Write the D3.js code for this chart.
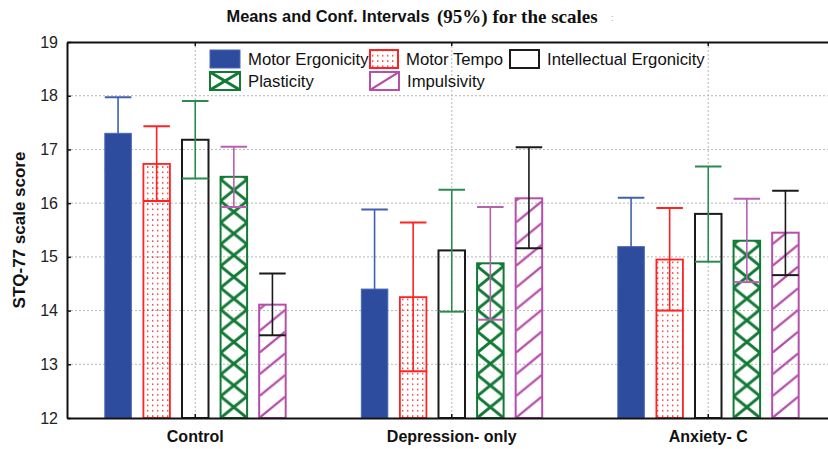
<!DOCTYPE html>
<html>
<head>
<meta charset="utf-8">
<script src="https://cdn.jsdelivr.net/npm/d3@7"></script>
<style>
  html, body { margin: 0; padding: 0; background: #fff; }
  svg { display: block; }
</style>
</head>
<body>
<svg id="chart" width="828" height="449"></svg>
<script>
// ---------------- data ----------------
const categories = ["Control", "Depression- only", "Anxiety- C"];
const series = ["Motor Ergonicity", "Motor Tempo", "Intellectual Ergonicity", "Plasticity", "Impulsivity"];

const meanMotorErgonicity       = [17.30, 14.40, 15.19];
const meanMotorTempo            = [16.73, 14.25, 14.95];
const meanIntellectualErgonicity= [17.18, 15.12, 15.80];
const meanPlasticity            = [16.49, 14.88, 15.30];
const meanImpulsivity           = [14.11, 16.09, 15.45];

const upperMotorErgonicity       = [17.97, 15.88, 16.10];
const upperMotorTempo            = [17.43, 15.64, 15.91];
const upperIntellectualErgonicity= [17.90, 16.25, 16.68];
const upperPlasticity            = [17.05, 15.93, 16.08];
const upperImpulsivity           = [14.69, 17.04, 16.23];

const lowerMotorErgonicity       = [16.63, 12.92, 14.28];
const lowerMotorTempo            = [16.04, 12.87, 14.00];
const lowerIntellectualErgonicity= [16.46, 13.98, 14.91];
const lowerPlasticity            = [15.93, 13.83, 14.53];
const lowerImpulsivity           = [13.54, 15.16, 14.66];

const yTicks = [12, 13, 14, 15, 16, 17, 18, 19];
const yDomain = [12, 19];
const titleSans = "Means and Conf. Intervals";
const titleSerif = "(95%) for the scales";
const yLabel = "STQ-77 scale score";

const means = [meanMotorErgonicity, meanMotorTempo, meanIntellectualErgonicity, meanPlasticity, meanImpulsivity];
const uppers = [upperMotorErgonicity, upperMotorTempo, upperIntellectualErgonicity, upperPlasticity, upperImpulsivity];
const lowers = [lowerMotorErgonicity, lowerMotorTempo, lowerIntellectualErgonicity, lowerPlasticity, lowerImpulsivity];

// ---------------- styles ----------------
const SANS = "'Liberation Sans', Arial, sans-serif";
const SERIF = "'Liberation Serif', 'Times New Roman', serif";
const BLUE = "#2e4c9e", RED = "#ff2222", BLACK = "#1a1a1a", GREEN = "#137a36", PURPLE = "#b54faa";
const barStroke = [ "#4a68b4", RED, BLACK, GREEN, PURPLE ];
const barKind   = [ "solid", "dots", "empty", "cross", "diag" ];
const errColors = [ "#4060b0", RED, "#2a8a50", "#b860b0", BLACK ];

// ---------------- layout ----------------
const svg = d3.select("#chart");
const M = { left: 67, top: 42, bottom: 418, right: 836.5 };

const x0 = d3.scaleBand().domain(categories).range([M.left, M.right]).padding(0);
const x1 = d3.scaleBand().domain(series).range([0, x0.bandwidth()]).paddingInner(0.313).paddingOuter(0.98);
const y = d3.scaleLinear().domain(yDomain).range([M.bottom, M.top]);

const defs = svg.append("defs");
defs.append("clipPath").attr("id", "plotclip")
  .append("rect").attr("x", M.left).attr("y", M.top).attr("width", M.right - M.left).attr("height", M.bottom - M.top);

// dots pattern
const pd = defs.append("pattern").attr("id", "dots").attr("patternUnits", "userSpaceOnUse")
  .attr("width", 5).attr("height", 5.3);
pd.append("rect").attr("x", 2).attr("y", 2).attr("width", 1.4).attr("height", 1.4).attr("fill", RED);

function makeCross(id, x, yb, w, h) {
  const p = defs.append("pattern").attr("id", id).attr("patternUnits", "userSpaceOnUse")
    .attr("x", x).attr("y", yb).attr("width", w).attr("height", h);
  p.append("path").attr("d", `M0,0L${w},${h}M${w},0L0,${h}`)
    .attr("stroke", GREEN).attr("stroke-width", 2.9).attr("fill", "none");
  return `url(#${id})`;
}
function makeDiag(id, x, yb, w, h) {
  const p = defs.append("pattern").attr("id", id).attr("patternUnits", "userSpaceOnUse")
    .attr("x", x).attr("y", yb).attr("width", w).attr("height", h);
  p.append("path").attr("d", `M0,${h}L${w},0M${-w},${h}L0,0M${w},${h}L${2*w},0`)
    .attr("stroke", PURPLE).attr("stroke-width", 2.3).attr("fill", "none");
  return `url(#${id})`;
}

function fillFor(kind, id, x, yb, w, h) {
  if (kind === "solid") return BLUE;
  if (kind === "dots") return "url(#dots)";
  if (kind === "empty") return "none";
  if (kind === "cross") return makeCross(id, x, yb, w, h);
  return makeDiag(id, x, yb, w, h);
}

// ---------------- title ----------------
svg.append("text").attr("x", 226.5).attr("y", 22).style("font-family", SANS).attr("font-size", 16.5)
  .attr("font-weight", "bold").attr("textLength", 203).attr("lengthAdjust", "spacingAndGlyphs")
  .attr("fill", "#111").text(titleSans);
svg.append("text").attr("x", 437).attr("y", 23).style("font-family", SERIF).attr("font-size", 19)
  .attr("font-weight", "bold").attr("fill", "#111").text(titleSerif);
svg.append("text").attr("x", 611).attr("y", 21).style("font-family", SANS).attr("font-size", 9)
  .attr("fill", "#aaa").text(":");

// ---------------- grid ----------------
const grid = svg.append("g").attr("stroke", "#b8b8b8").attr("stroke-width", 1).attr("stroke-dasharray", "2,2");
grid.selectAll("line.h").data(yTicks.filter(t => t > yDomain[0] && t < yDomain[1])).join("line")
  .attr("class", "h").attr("x1", M.left).attr("x2", M.right).attr("y1", d => y(d)).attr("y2", d => y(d));
grid.selectAll("line.v").data(categories).join("line")
  .attr("class", "v").attr("x1", d => x0(d) + x0.bandwidth() / 2).attr("x2", d => x0(d) + x0.bandwidth() / 2)
  .attr("y1", M.top).attr("y2", M.bottom);

// ---------------- legend ----------------
const legendPos = [
  { sx: 210, sy: 50, w: 30, h: 18 },
  { sx: 370, sy: 50, w: 28, h: 18 },
  { sx: 510, sy: 50, w: 29, h: 18 },
  { sx: 210, sy: 72, w: 30, h: 18 },
  { sx: 370, sy: 72, w: 29, h: 18 }
];
const lg = svg.append("g");
series.forEach((s, i) => {
  const p = legendPos[i];
  const kind = barKind[i];
  const f = fillFor(kind, "lg" + i, p.sx, p.sy, p.w, p.h);
  lg.append("rect").attr("x", p.sx).attr("y", p.sy).attr("width", p.w).attr("height", p.h)
    .attr("fill", f).attr("stroke", barStroke[i]).attr("stroke-width", kind === "solid" ? 1 : 2);
  lg.append("text").attr("x", p.sx + p.w + 8).attr("y", p.sy + 15).style("font-family", SANS)
    .attr("font-size", 16.7).attr("fill", "#111").text(s);
});

// ---------------- bars ----------------
const plot = svg.append("g").attr("clip-path", "url(#plotclip)");
const barData = [];
categories.forEach((c, ci) => series.forEach((s, si) => {
  barData.push({ c, ci, s, si, mean: means[si][ci], up: uppers[si][ci], lo: lowers[si][ci] });
}));

function drawErr(sel) {
  const g = sel.append("g").attr("class", "err")
    .attr("stroke", d => errColors[d.si]).attr("stroke-width", 1.6);
  g.append("line")
    .attr("x1", d => x0(d.c) + x1(d.s) + x1.bandwidth() / 2)
    .attr("x2", d => x0(d.c) + x1(d.s) + x1.bandwidth() / 2)
    .attr("y1", d => y(d.lo)).attr("y2", d => y(d.up));
  g.append("line")
    .attr("x1", d => x0(d.c) + x1(d.s)).attr("x2", d => x0(d.c) + x1(d.s) + x1.bandwidth())
    .attr("y1", d => y(d.up)).attr("y2", d => y(d.up)).attr("stroke-width", 2);
  g.append("line")
    .attr("x1", d => x0(d.c) + x1(d.s)).attr("x2", d => x0(d.c) + x1(d.s) + x1.bandwidth())
    .attr("y1", d => y(d.lo)).attr("y2", d => y(d.lo)).attr("stroke-width", 2);
}

// error bars of solid bars go behind the bar
drawErr(plot.append("g").selectAll("g").data(barData.filter(d => barKind[d.si] === "solid")).join("g"));

plot.selectAll("rect.bar").data(barData).join("rect")
  .attr("class", "bar")
  .attr("x", d => x0(d.c) + x1(d.s))
  .attr("y", d => y(d.mean))
  .attr("width", x1.bandwidth())
  .attr("height", d => y(yDomain[0]) - y(d.mean))
  .attr("fill", d => fillFor(barKind[d.si], `b${d.ci}_${d.si}`, x0(d.c) + x1(d.s), y(yDomain[0]),
      x1.bandwidth(), 21.7))
  .attr("stroke", d => barStroke[d.si])
  .attr("stroke-width", d => barKind[d.si] === "solid" ? 1 : (barKind[d.si] === "dots" ? 1.8 : 2));

drawErr(plot.append("g").selectAll("g").data(barData.filter(d => barKind[d.si] !== "solid")).join("g"));

// ---------------- axes ----------------
const yAxis = d3.axisLeft(y).tickValues(yTicks).tickFormat(d3.format("d"))
  .tickSizeInner(-4).tickSizeOuter(0).tickPadding(9);
const gy = svg.append("g").attr("transform", `translate(${M.left},0)`).call(yAxis);
gy.selectAll("text").attr("font-size", 16).attr("fill", "#222").style("font-family", SANS);

const xAxis = d3.axisBottom(x0).tickSizeInner(-4).tickSizeOuter(0).tickPadding(13);
const gx = svg.append("g").attr("transform", `translate(0,${M.bottom})`).call(xAxis);
gx.selectAll("text").attr("font-size", 16).attr("font-weight", "bold").attr("fill", "#111")
  .style("font-family", SANS);

const xTop = d3.axisTop(x0).tickSizeInner(-4).tickSizeOuter(0).tickFormat("");
const gt = svg.append("g").attr("transform", `translate(0,${M.top})`).call(xTop);

[gy, gx, gt].forEach(g => {
  g.select(".domain").attr("stroke", "#111").attr("stroke-width", 2);
  g.selectAll(".tick line").attr("stroke", "#111").attr("stroke-width", 1.5);
});

// y label
svg.append("text")
  .attr("transform", `translate(25,${(M.top + M.bottom) / 2}) rotate(-90)`)
  .attr("text-anchor", "middle").style("font-family", SANS).attr("font-size", 17)
  .attr("font-weight", "bold").attr("fill", "#111")
  .text(yLabel);
</script>
</body>
</html>
